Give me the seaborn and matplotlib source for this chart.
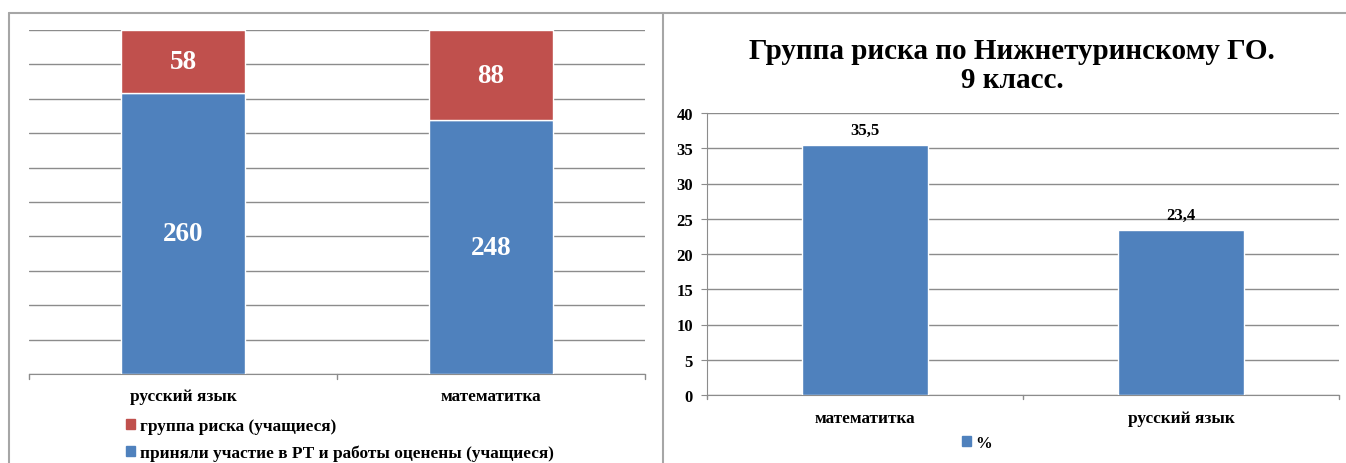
import numpy as np
import pandas as pd
import matplotlib
matplotlib.use("Agg")
import matplotlib.pyplot as plt
from matplotlib.lines import Line2D
from matplotlib.patches import Patch
import seaborn as sns

# ---------------------------------------------------
# Data
# ---------------------------------------------------
subjects_left = ["русский язык", "математитка"]
took_part = [260, 248]          # приняли участие в РТ и работы оценены (учащиеся)
risk_group = [58, 88]           # группа риска (учащиеся)

subjects_right = ["математитка", "русский язык"]
risk_pct = [35.5, 23.4]
risk_pct_labels = ["35,5", "23,4"]

right_title = "Группа риска по Нижнетуринскому ГО.\n9 класс."
legend_took = "приняли участие в РТ и работы оценены (учащиеся)"
legend_risk = "группа риска (учащиеся)"

BLUE = "#4F81BD"
RED = "#C0504D"
GRID = "#8C8C8C"
FRAME = "#A6A6A6"

sns.set_style("white")
plt.rcParams["font.family"] = ["Liberation Serif", "DejaVu Serif"]
plt.rcParams["font.weight"] = "bold"
plt.rcParams["text.color"] = "black"
plt.rcParams["xtick.labelcolor"] = "black"
plt.rcParams["ytick.labelcolor"] = "black"

fig = plt.figure(figsize=(13.46, 4.64), dpi=100)
W, H = 1346, 464

# panel frames
fig.add_artist(Line2D([9 / W, 9 / W], [0, 1 - 14 / H], transform=fig.transFigure, color=FRAME, lw=1.5))
fig.add_artist(Line2D([9 / W, 1], [1 - 14 / H, 1 - 14 / H], transform=fig.transFigure, color=FRAME, lw=1.5))
fig.add_artist(Line2D([663 / W, 663 / W], [0, 1 - 14 / H], transform=fig.transFigure, color=FRAME, lw=1.5))

# ---------------------------------------------------
# Left: 100% stacked bars
# ---------------------------------------------------
axl = fig.add_axes([29 / W, 1 - 375 / H, 616 / W, 344 / H])
total = np.array(took_part) + np.array(risk_group)
df_left = pd.DataFrame({
    "subject": subjects_left,
    "took": np.array(took_part) / total,
    "risk": np.array(risk_group) / total,
})
sns.barplot(data=df_left, x="subject", y="took", color=BLUE, width=0.4,
            saturation=1, ax=axl, zorder=3)
sns.barplot(data=df_left, x="subject", y="risk", color=RED, width=0.4,
            saturation=1, bottom=df_left["took"], ax=axl, zorder=3)
axl.bar_label(axl.containers[0], labels=[str(v) for v in took_part], label_type="center",
              color="white", fontsize=19.5, fontweight="bold")
axl.bar_label(axl.containers[1], labels=[str(v) for v in risk_group], label_type="center",
              color="white", fontsize=19.5, fontweight="bold")
axl.set_ylim(0, 1)
axl.set_xlim(-0.5, 1.5)
axl.set_yticks(np.arange(0, 1.01, 0.1))
axl.set_yticklabels([])
axl.grid(axis="y", color=GRID, lw=1, zorder=0)
axl.set_xlabel("")
axl.set_ylabel("")
for s in ["top", "right", "left"]:
    axl.spines[s].set_visible(False)
axl.spines["bottom"].set_color(GRID)
axl.tick_params(axis="y", length=0)
axl.set_xticks([0, 1])
axl.set_xticklabels(subjects_left, fontsize=12.4, fontweight="bold")
axl.tick_params(axis="x", length=0, pad=10)
for xb in [-0.5, 0.5, 1.5]:
    axl.plot([xb, xb], [0, -0.015], color=GRID, lw=1, clip_on=False)

fig.legend(handles=[Patch(color=RED, label=legend_risk), Patch(color=BLUE, label=legend_took)],
           loc="upper left", bbox_to_anchor=(126 / W, 1 - 419 / H), frameon=False,
           prop={"family": "Liberation Serif", "weight": "bold", "size": 12.4},
           handlelength=0.55, handleheight=0.5, handletextpad=0.25, labelspacing=0.6,
           borderpad=0, borderaxespad=0)

# ---------------------------------------------------
# Right: risk group %
# ---------------------------------------------------
axr = fig.add_axes([707 / W, 1 - 396 / H, 632 / W, 282 / H])
df_right = pd.DataFrame({"subject": subjects_right, "pct": risk_pct})
sns.barplot(data=df_right, x="subject", y="pct", color=BLUE, width=0.4,
            saturation=1, ax=axr, zorder=3)
axr.bar_label(axr.containers[0], labels=risk_pct_labels, padding=5,
              fontsize=12, fontweight="bold")
axr.set_ylim(0, 40)
axr.set_xlim(-0.5, 1.5)
axr.set_yticks(range(0, 41, 5))
axr.grid(axis="y", color=GRID, lw=1, zorder=0)
axr.set_xlabel("")
axr.set_ylabel("")
for s in ["top", "right"]:
    axr.spines[s].set_visible(False)
for s in ["left", "bottom"]:
    axr.spines[s].set_color(GRID)
axr.tick_params(axis="y", length=4, color=GRID, labelsize=12, pad=6, direction="out", left=True)
for lab in axr.get_yticklabels():
    lab.set_fontweight("bold")
axr.set_xticks([0, 1])
axr.set_xticklabels(subjects_right, fontsize=12.4, fontweight="bold")
axr.tick_params(axis="x", length=0, pad=11)
for xb in [-0.5, 0.5, 1.5]:
    axr.plot([xb, xb], [0, -0.6], color=GRID, lw=1, clip_on=False)
axr.set_title(right_title, fontsize=21, fontweight="bold", pad=19, linespacing=1.1,
              x=(1012 - 707) / 632)

fig.legend(handles=[Patch(color=BLUE, label="%")], loc="center left",
           bbox_to_anchor=(962 / W, 1 - 444 / H), frameon=False,
           prop={"family": "Liberation Serif", "weight": "bold", "size": 12},
           handlelength=0.55, handleheight=0.5, handletextpad=0.25,
           borderpad=0, borderaxespad=0)

fig.savefig("out.png", dpi=100)
